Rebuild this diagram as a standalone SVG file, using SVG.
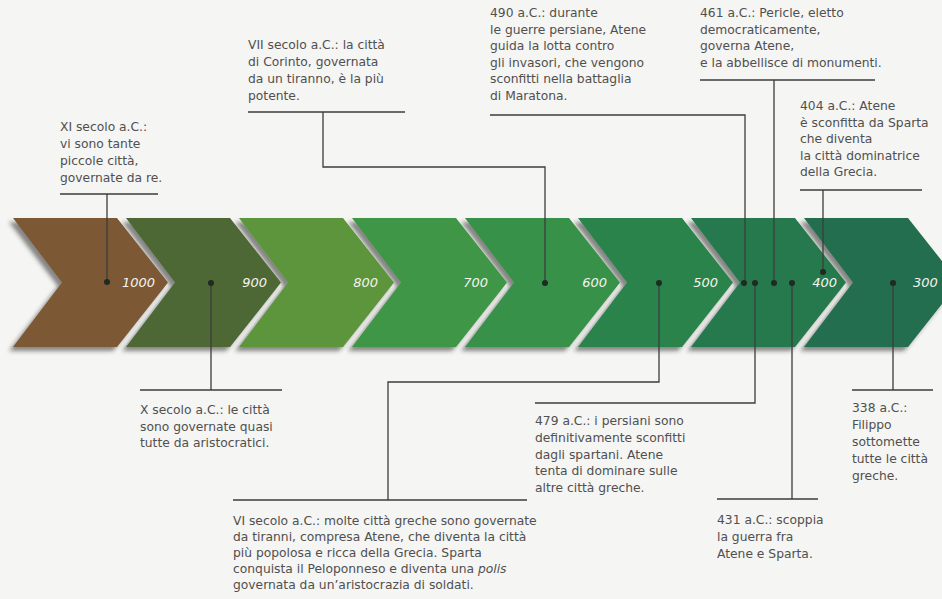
<svg xmlns="http://www.w3.org/2000/svg" width="942" height="599" viewBox="0 0 942 599">
<defs>
<filter id="sh" x="-5%" y="-10%" width="110%" height="125%">
<feDropShadow dx="-4" dy="4" stdDeviation="2" flood-color="#2a2a2a" flood-opacity="0.55"/>
</filter>
</defs>
<style>
.note{font-family:"DejaVu Sans","Liberation Sans",sans-serif;font-size:12.3px;fill:#505050}
.yr{font-family:"DejaVu Sans","Liberation Sans",sans-serif;font-size:13px;font-style:italic;fill:#f4f4ec}
.ln{stroke:#3c3c3c;stroke-width:1.3;fill:none}
.dot{fill:#1e2a22}
</style>
<rect width="942" height="599" fill="#f5f5f3"/>
<g id="timeline" filter="url(#sh)">
<polygon id="c1" points="13,218 117,218 168,282.5 117,347 13,347 62,282.5" fill="#7c5834"/>
<polygon id="c2" points="126,218 230,218 281,282.5 230,347 126,347 175,282.5" fill="#4e6836"/>
<polygon id="c3" points="239,218 343,218 394,282.5 343,347 239,347 288,282.5" fill="#5d953e"/>
<polygon id="c4" points="352,218 456,218 507,282.5 456,347 352,347 401,282.5" fill="#3f9646"/>
<polygon id="c5" points="465,218 569,218 620,282.5 569,347 465,347 514,282.5" fill="#399149"/>
<polygon id="c6" points="578,218 682,218 733,282.5 682,347 578,347 627,282.5" fill="#2b834c"/>
<polygon id="c7" points="691,218 795,218 846,282.5 795,347 691,347 740,282.5" fill="#25794e"/>
<polygon id="c8" points="804,218 908,218 959,282.5 908,347 804,347 853,282.5" fill="#236e4f"/>
</g>
<g id="years">
<text class="yr" x="155" y="287" text-anchor="end">1000</text>
<text class="yr" x="267" y="287" text-anchor="end">900</text>
<text class="yr" x="378" y="287" text-anchor="end">800</text>
<text class="yr" x="488" y="287" text-anchor="end">700</text>
<text class="yr" x="607" y="287" text-anchor="end">600</text>
<text class="yr" x="718" y="287" text-anchor="end">500</text>
<text class="yr" x="837" y="287" text-anchor="end">400</text>
<text class="yr" x="913" y="287">300</text>
</g>
<g id="connectors">
<path class="ln" d="M60,194H158M107,194V282"/>
<path class="ln" d="M248,112H405M323,112V167H545V283"/>
<path class="ln" d="M490,115H745V283"/>
<path class="ln" d="M700,80H875M774,80V283"/>
<path class="ln" d="M800,190H922M823,190V272"/>
<path class="ln" d="M140,390H282M211,283V390"/>
<path class="ln" d="M233,500H527M388,500V382H659V283"/>
<path class="ln" d="M535,403H755V283"/>
<path class="ln" d="M717,499H818M792,283V499"/>
<path class="ln" d="M852,390H933M893,283V390"/>
</g>
<g id="dots">
<circle class="dot" cx="107" cy="282" r="3"/>
<circle class="dot" cx="211" cy="283" r="3"/>
<circle class="dot" cx="545" cy="283" r="3"/>
<circle class="dot" cx="659" cy="283" r="3"/>
<circle class="dot" cx="744" cy="283" r="3"/>
<circle class="dot" cx="755" cy="283" r="3"/>
<circle class="dot" cx="774" cy="283" r="3"/>
<circle class="dot" cx="792" cy="283" r="3"/>
<circle class="dot" cx="823" cy="272" r="3"/>
<circle class="dot" cx="893" cy="283" r="3"/>
</g>
<g id="n-xi">
<text class="note" x="60" y="131">XI secolo a.C.:</text>
<text class="note" x="60" y="148">vi sono tante</text>
<text class="note" x="60" y="165">piccole città,</text>
<text class="note" x="60" y="182">governate da re.</text>
</g>
<g id="n-vii">
<text class="note" x="248" y="49">VII secolo a.C.: la città</text>
<text class="note" x="248" y="66">di Corinto, governata</text>
<text class="note" x="248" y="83">da un tiranno, è la più</text>
<text class="note" x="248" y="100">potente.</text>
</g>
<g id="n-490">
<text class="note" x="490" y="17">490 a.C.: durante</text>
<text class="note" x="490" y="33.5">le guerre persiane, Atene</text>
<text class="note" x="490" y="50">guida la lotta contro</text>
<text class="note" x="490" y="66.5">gli invasori, che vengono</text>
<text class="note" x="490" y="83">sconfitti nella battaglia</text>
<text class="note" x="490" y="99.5">di Maratona.</text>
</g>
<g id="n-461">
<text class="note" x="700" y="17">461 a.C.: Pericle, eletto</text>
<text class="note" x="700" y="33.5">democraticamente,</text>
<text class="note" x="700" y="50">governa Atene,</text>
<text class="note" x="700" y="66.5">e la abbellisce di monumenti.</text>
</g>
<g id="n-404">
<text class="note" x="800" y="110">404 a.C.: Atene</text>
<text class="note" x="800" y="126.5">è sconfitta da Sparta</text>
<text class="note" x="800" y="143">che diventa</text>
<text class="note" x="800" y="159.5">la città dominatrice</text>
<text class="note" x="800" y="176">della Grecia.</text>
</g>
<g id="n-x">
<text class="note" x="140" y="414">X secolo a.C.: le città</text>
<text class="note" x="140" y="430.5">sono governate quasi</text>
<text class="note" x="140" y="447">tutte da aristocratici.</text>
</g>
<g id="n-vi">
<text class="note" x="233" y="525">VI secolo a.C.: molte città greche sono governate</text>
<text class="note" x="233" y="541">da tiranni, compresa Atene, che diventa la città</text>
<text class="note" x="233" y="557">più popolosa e ricca della Grecia. Sparta</text>
<text class="note" x="233" y="573">conquista il Peloponneso e diventa una <tspan font-style="italic">polis</tspan></text>
<text class="note" x="233" y="589">governata da un’aristocrazia di soldati.</text>
</g>
<g id="n-479">
<text class="note" x="535" y="425">479 a.C.: i persiani sono</text>
<text class="note" x="535" y="441.8">definitivamente sconfitti</text>
<text class="note" x="535" y="458.6">dagli spartani. Atene</text>
<text class="note" x="535" y="475.4">tenta di dominare sulle</text>
<text class="note" x="535" y="492">altre città greche.</text>
</g>
<g id="n-431">
<text class="note" x="717" y="524">431 a.C.: scoppia</text>
<text class="note" x="717" y="541">la guerra fra</text>
<text class="note" x="717" y="558">Atene e Sparta.</text>
</g>
<g id="n-338">
<text class="note" x="852" y="412">338 a.C.:</text>
<text class="note" x="852" y="429">Filippo</text>
<text class="note" x="852" y="446">sottomette</text>
<text class="note" x="852" y="463">tutte le città</text>
<text class="note" x="852" y="480">greche.</text>
</g>
</svg>
